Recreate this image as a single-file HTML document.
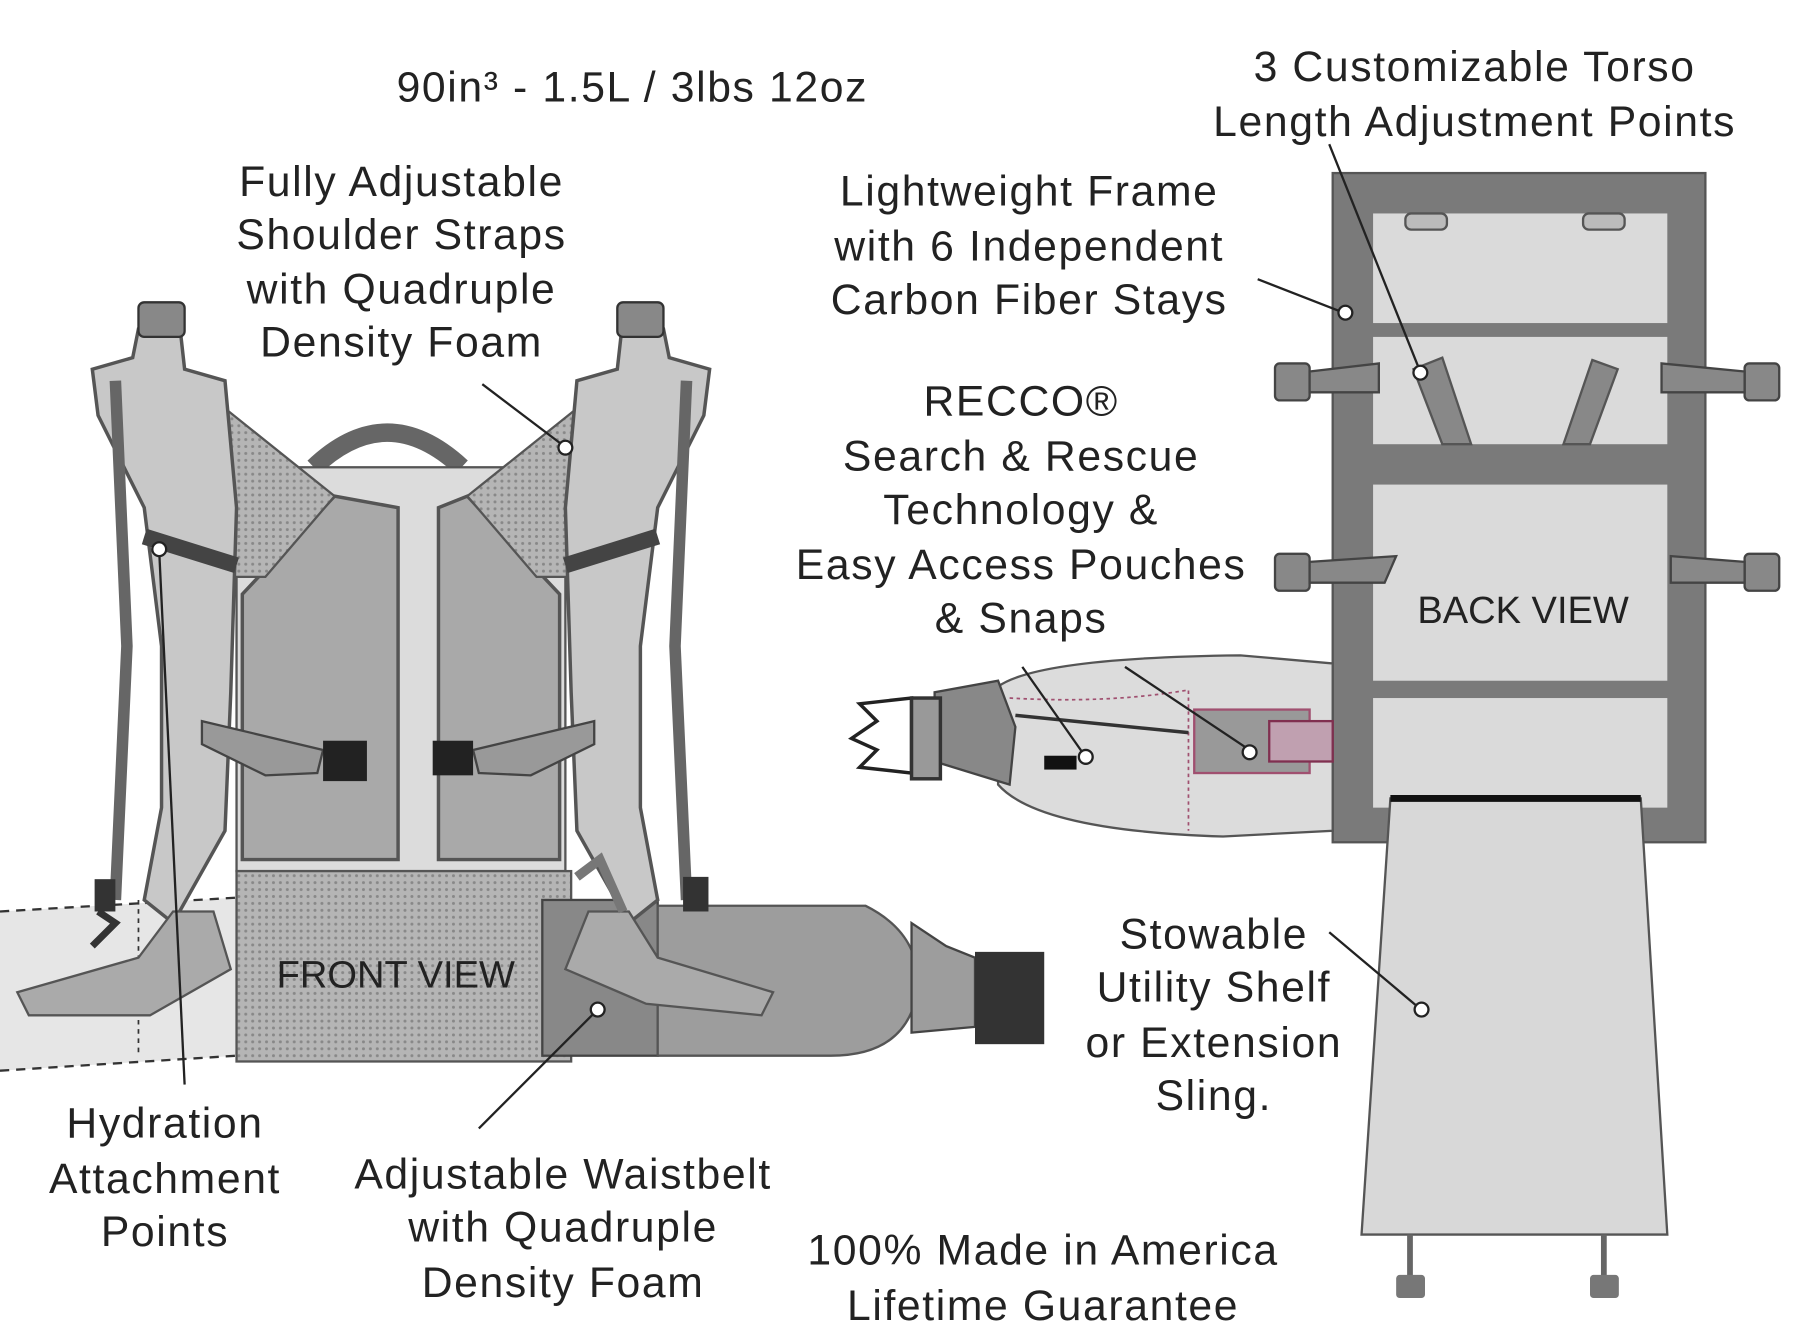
<!DOCTYPE html>
<html><head><meta charset="utf-8"><style>
html,body{margin:0;padding:0;background:#fff;}
svg{display:block}
text{font-family:"Liberation Sans",sans-serif;fill:#222;font-size:37px;text-anchor:middle;letter-spacing:1.4px}
</style></head><body>
<svg width="1800" height="1343" viewBox="0 0 1560 1164" preserveAspectRatio="none" xmlns="http://www.w3.org/2000/svg">
<defs>
<pattern id="dots" width="6" height="6" patternUnits="userSpaceOnUse"><rect width="6" height="6" fill="#b5b5b5"/><circle cx="3" cy="3" r="1.3" fill="#888"/></pattern>
</defs>
<rect width="1560" height="1164" fill="#fff"/>

<!-- BACK VIEW frame -->
<rect x="1155" y="150" width="323" height="580" fill="#7a7a7a" stroke="#555" stroke-width="2"/>
<rect x="1190" y="185" width="255" height="95" fill="#dadada"/>
<rect x="1190" y="292" width="255" height="93" fill="#dadada"/>
<rect x="1190" y="420" width="255" height="170" fill="#dadada"/>
<rect x="1190" y="605" width="255" height="95" fill="#dadada"/>
<rect x="1218" y="185" width="36" height="14" rx="5" fill="#bbb" stroke="#555" stroke-width="2"/>
<rect x="1372" y="185" width="36" height="14" rx="5" fill="#bbb" stroke="#555" stroke-width="2"/>
<path d="M1225 320 L1250 310 L1275 385 L1250 385 Z" fill="#888" stroke="#555" stroke-width="2"/>
<path d="M1380 312 L1402 320 L1378 385 L1355 385 Z" fill="#888" stroke="#555" stroke-width="2"/>
<g fill="#888" stroke="#444" stroke-width="2">
<rect x="1105" y="315" width="30" height="32" rx="4"/><path d="M1135 322 L1195 315 L1195 340 L1135 340Z"/>
<rect x="1105" y="480" width="30" height="32" rx="4"/><path d="M1135 487 L1210 482 L1200 505 L1135 505Z"/>
<rect x="1512" y="315" width="30" height="32" rx="4"/><path d="M1512 322 L1440 315 L1440 340 L1512 340Z"/>
<rect x="1512" y="480" width="30" height="32" rx="4"/><path d="M1512 487 L1448 482 L1448 505 L1512 505Z"/>
</g>
<text x="1320" y="540" style="font-size:33px;letter-spacing:0">BACK VIEW</text>
<path d="M1205 692 L1422 692 L1445 1070 L1180 1070 Z" fill="#d8d8d8" stroke="#555" stroke-width="2"/>
<line x1="1205" y1="692" x2="1422" y2="692" stroke="#111" stroke-width="6"/>
<g stroke="#666" stroke-width="5"><line x1="1222" y1="1070" x2="1222" y2="1110"/><line x1="1390" y1="1070" x2="1390" y2="1110"/></g>
<rect x="1210" y="1105" width="25" height="20" rx="3" fill="#777"/><rect x="1378" y="1105" width="25" height="20" rx="3" fill="#777"/>

<!-- back view waistbelt -->
<path d="M865 595 Q900 570 1075 568 L1155 575 L1155 720 L1060 725 Q900 720 865 680 Z" fill="#dcdcdc" stroke="#555" stroke-width="2"/>
<path d="M875 605 Q960 610 1030 598 L1030 720" fill="none" stroke="#a05070" stroke-width="1.5" stroke-dasharray="3,3"/>
<rect x="1035" y="615" width="100" height="55" fill="#999" stroke="#a05070" stroke-width="2"/>
<rect x="1100" y="625" width="55" height="35" fill="#c0a0b0" stroke="#803050" stroke-width="2"/>
<path d="M880 620 L1030 635" stroke="#333" stroke-width="3"/>
<rect x="905" y="655" width="28" height="12" fill="#111"/>
<path d="M810 600 L865 590 L880 630 L875 680 L810 660 Z" fill="#888" stroke="#444" stroke-width="2"/>
<path d="M745 610 L790 605 L790 670 L745 665 L760 650 L738 640 L760 625 Z" fill="#fff" stroke="#222" stroke-width="3"/>
<rect x="790" y="605" width="25" height="70" fill="#999" stroke="#333" stroke-width="3"/>

<!-- FRONT VIEW -->
<path d="M0 790 L205 778 L205 915 L0 928 Z" fill="#e6e6e6"/>
<path d="M0 790 L205 778 M0 928 L205 915" stroke="#333" stroke-width="2" stroke-dasharray="8,6" fill="none"/>
<path d="M120 780 L120 915" stroke="#333" stroke-width="1.5" stroke-dasharray="4,4"/>
<path d="M272 405 Q335 345 400 405" fill="none" stroke="#666" stroke-width="16"/>
<rect x="205" y="405" width="285" height="350" fill="#dcdcdc" stroke="#555" stroke-width="2"/>
<path d="M210 515 L290 430 L345 440 L345 745 L210 745 Z" fill="#a9a9a9" stroke="#555" stroke-width="3"/>
<path d="M485 515 L405 430 L380 440 L380 745 L485 745 Z" fill="#a9a9a9" stroke="#555" stroke-width="3"/>
<path d="M165 330 L290 430 L230 500 L165 500 Z" fill="url(#dots)" stroke="#555" stroke-width="2"/>
<path d="M530 330 L405 430 L465 500 L530 500 Z" fill="url(#dots)" stroke="#555" stroke-width="2"/>
<rect x="205" y="755" width="290" height="165" fill="url(#dots)" stroke="#555" stroke-width="2"/>
<rect x="470" y="780" width="100" height="135" fill="#888" stroke="#444" stroke-width="2"/>
<path d="M570 785 L750 785 Q800 810 795 860 Q785 915 720 915 L570 915 Z" fill="#9d9d9d" stroke="#555" stroke-width="2"/>
<path d="M790 800 L820 820 L845 830 L845 890 L790 895 Z" fill="#9d9d9d" stroke="#444" stroke-width="2"/>
<rect x="845" y="825" width="60" height="80" fill="#333"/>
<text x="343" y="856" style="font-size:33px;letter-spacing:0">FRONT VIEW</text>
<path d="M120 285 L155 275 L160 320 L195 330 L205 440 L200 600 L195 720 L150 800 L125 780 L140 700 L140 560 L125 440 L85 360 L80 320 L115 310 Z" fill="#c8c8c8" stroke="#555" stroke-width="3"/>
<path d="M575 285 L540 275 L535 320 L500 330 L490 440 L495 600 L500 720 L545 800 L570 780 L555 700 L555 560 L570 440 L610 360 L615 320 L580 310 Z" fill="#c8c8c8" stroke="#555" stroke-width="3"/>
<path d="M100 330 L110 560 L100 780" stroke="#666" stroke-width="10" fill="none"/>
<path d="M595 330 L585 560 L595 780" stroke="#666" stroke-width="10" fill="none"/>
<path d="M125 465 L205 490" stroke="#444" stroke-width="14"/>
<path d="M570 465 L490 490" stroke="#444" stroke-width="14"/>
<rect x="120" y="262" width="40" height="30" rx="5" fill="#888" stroke="#333" stroke-width="2"/>
<rect x="535" y="262" width="40" height="30" rx="5" fill="#888" stroke="#333" stroke-width="2"/>
<path d="M175 625 L280 650 L275 670 L230 672 L175 645 Z" fill="#999" stroke="#444" stroke-width="2"/>
<rect x="280" y="642" width="38" height="35" fill="#222"/>
<path d="M515 625 L410 650 L415 670 L460 672 L515 645 Z" fill="#999" stroke="#444" stroke-width="2"/>
<rect x="375" y="642" width="35" height="30" fill="#222"/>
<path d="M150 790 L185 790 L200 840 L130 880 L25 880 L15 860 L120 830 Z" fill="#aaa" stroke="#555" stroke-width="2"/>
<path d="M545 790 L510 790 L490 840 L560 870 L660 880 L670 860 L570 830 Z" fill="#aaa" stroke="#555" stroke-width="2"/>
<path d="M500 760 L520 745 L540 790" stroke="#777" stroke-width="8" fill="none"/>
<path d="M85 790 L100 800 L80 820" stroke="#333" stroke-width="6" fill="none"/>
<rect x="592" y="760" width="22" height="30" fill="#333"/>
<rect x="82" y="762" width="18" height="28" fill="#333"/>

<g stroke="#222" stroke-width="2" fill="none">
<line x1="418" y1="333" x2="488" y2="386"/><circle cx="490" cy="388" r="6" fill="#fff"/>
<line x1="1090" y1="242" x2="1162" y2="270"/><circle cx="1166" cy="271" r="6" fill="#fff"/>
<line x1="1152" y1="125" x2="1230" y2="320"/><circle cx="1231" cy="323" r="6" fill="#fff"/>
<line x1="138" y1="478" x2="160" y2="940"/><circle cx="138" cy="476" r="6" fill="#fff"/>
<line x1="415" y1="978" x2="515" y2="878"/><circle cx="518" cy="875" r="6" fill="#fff"/>
<line x1="1152" y1="808" x2="1228" y2="872"/><circle cx="1232" cy="875" r="6" fill="#fff"/>
<line x1="886" y1="578" x2="938" y2="652"/><circle cx="941" cy="656" r="6" fill="#fff"/>
<line x1="975" y1="578" x2="1080" y2="648"/><circle cx="1083" cy="652" r="6" fill="#fff"/>
</g>

<text x="548" y="88">90in³ - 1.5L / 3lbs 12oz</text>
<text x="348" y="170">Fully Adjustable</text>
<text x="348" y="216">Shoulder Straps</text>
<text x="348" y="263">with Quadruple</text>
<text x="348" y="309">Density Foam</text>
<text x="1278" y="70">3 Customizable Torso</text>
<text x="1278" y="118">Length Adjustment Points</text>
<text x="892" y="178">Lightweight Frame</text>
<text x="892" y="226">with 6 Independent</text>
<text x="892" y="272">Carbon Fiber Stays</text>
<text x="885" y="360">RECCO®</text>
<text x="885" y="408">Search &amp; Rescue</text>
<text x="885" y="454">Technology &amp;</text>
<text x="885" y="502">Easy Access Pouches</text>
<text x="885" y="548">&amp; Snaps</text>
<text x="1052" y="822">Stowable</text>
<text x="1052" y="868">Utility Shelf</text>
<text x="1052" y="916">or Extension</text>
<text x="1052" y="962">Sling.</text>
<text x="143" y="986">Hydration</text>
<text x="143" y="1034">Attachment</text>
<text x="143" y="1080">Points</text>
<text x="488" y="1030">Adjustable Waistbelt</text>
<text x="488" y="1076">with Quadruple</text>
<text x="488" y="1124">Density Foam</text>
<text x="904" y="1096">100% Made in America</text>
<text x="904" y="1144">Lifetime Guarantee</text>
</svg>
</body></html>
